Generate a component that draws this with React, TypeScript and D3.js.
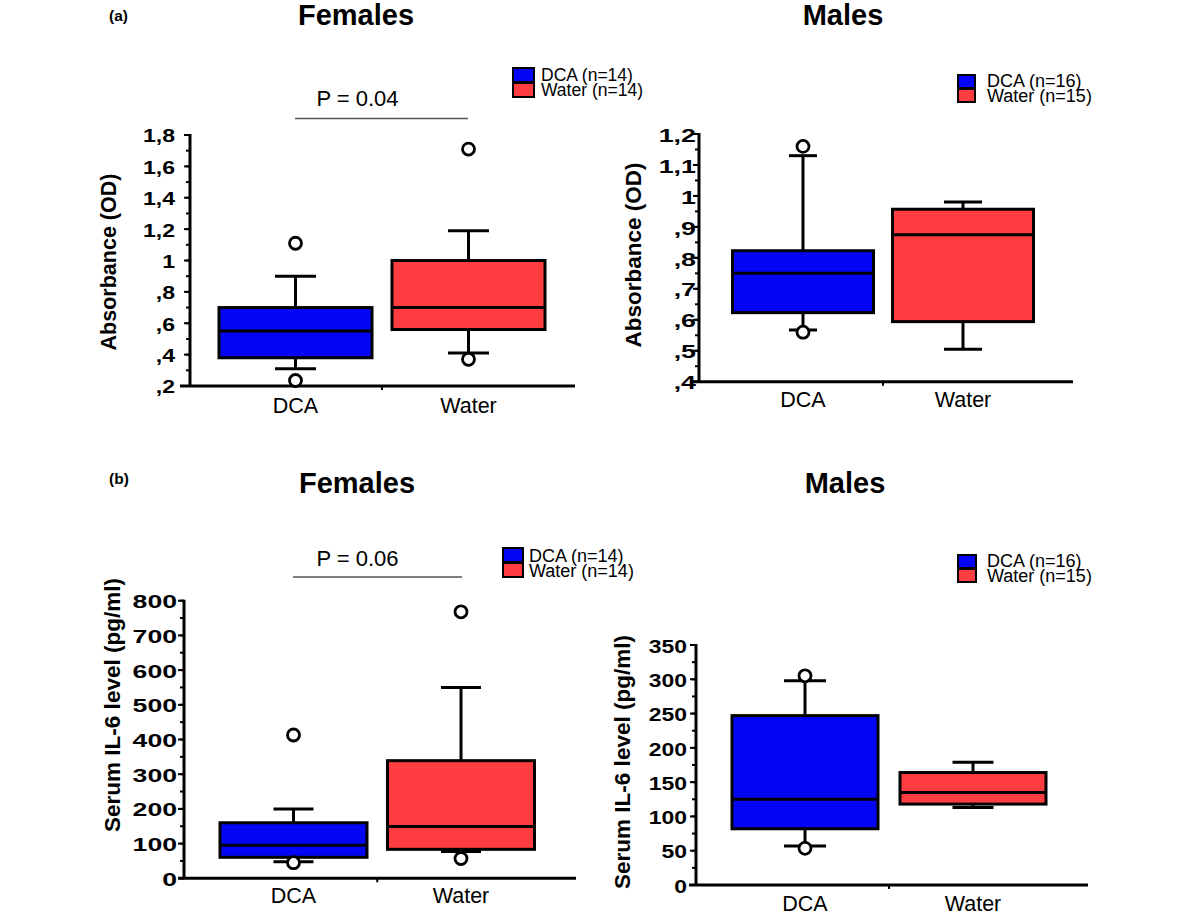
import React from "react";
import * as d3 from "d3";

// ---------- DATA ----------
const groups = ["DCA", "Water"];

// box stats per group: [lower whisker, Q1, median, Q3, upper whisker]
const odFemaleBox = [
  [0.31, 0.38, 0.55, 0.7, 0.9],
  [0.41, 0.56, 0.7, 1.0, 1.19],
];
const odFemaleOutliers = [[1.11, 0.235], [1.71, 0.37]];

const odMaleBox = [
  [0.567, 0.623, 0.75, 0.823, 1.13],
  [0.505, 0.594, 0.875, 0.957, 0.98],
];
const odMaleOutliers = [[1.16, 0.56], []];

const il6FemaleBox = [
  [48, 60.5, 95, 160, 200],
  [77, 83.5, 149, 339, 550],
];
const il6FemaleOutliers = [[413, 45], [768, 57]];

const il6MaleBox = [
  [57, 82, 125, 247, 298],
  [113, 118, 135, 164, 179],
];
const il6MaleOutliers = [[305, 53.5], []];

const odFemaleTicks = [0.2, 0.4, 0.6, 0.8, 1.0, 1.2, 1.4, 1.6, 1.8];
const odMaleTicks = [0.4, 0.5, 0.6, 0.7, 0.8, 0.9, 1.0, 1.1, 1.2];
const il6FemaleTicks = [0, 100, 200, 300, 400, 500, 600, 700, 800];
const il6MaleTicks = [0, 50, 100, 150, 200, 250, 300, 350];

const femaleLegend = ["DCA (n=14)", "Water (n=14)"];
const maleLegend = ["DCA (n=16)", "Water (n=15)"];

const odTitle = "Absorbance (OD)";
const il6Title = "Serum IL-6 level (pg/ml)";
const pFemaleOD = "P = 0.04";
const pFemaleIL6 = "P = 0.06";

// ---------- STYLE ----------
const COLORS = ["#0505f5", "#ff3d41"];
const FONT = "'Liberation Sans', Arial, Helvetica, sans-serif";

const commaFmt = (v: number) => {
  const s = d3.format("~g")(+v.toFixed(4));
  if (s.startsWith("0.")) return "," + s.slice(2);
  return s.replace(".", ",");
};
const intFmt = (v: number) => d3.format("d")(v);

type PanelCfg = {
  axisX: number;
  axisRight: number;
  axisLeftOver: number;
  yBottom: number;
  yTop: number;
  domain: [number, number];
  ticks: number[];
  minor: number;
  fmt: (v: number) => string;
  band: [number, number];
  boxW: number;
  capW: number[];
  tickFont: number;
  tickSX: number;
  labelGap: number;
  title: string;
  titleFont: number;
  titleX: number;
  titleY: number;
  catBaseline: number;
  catFont: number;
  box: number[][];
  outliers: number[][];
};

function BoxPanel({ c }: { c: PanelCfg }) {
  const y = d3.scaleLinear().domain(c.domain).range([c.yBottom, c.yTop]);
  const x = d3.scaleBand<string>().domain(groups).range(c.band).padding(0);
  const minorTicks = d3.range(c.domain[0], c.domain[1] + c.minor / 2, c.minor);
  const mid = (c.band[0] + c.band[1]) / 2;
  return (
    <g>
      {minorTicks.map((t, i) => (
        <line key={"m" + i} x1={c.axisX - 4} x2={c.axisX} y1={y(t)} y2={y(t)} stroke="#000" strokeWidth={2} />
      ))}
      {c.ticks.map((t, i) => (
        <line key={"t" + i} x1={c.axisX - 6} x2={c.axisX} y1={y(t)} y2={y(t)} stroke="#000" strokeWidth={2} />
      ))}
      {c.ticks.map((t, i) => (
        <text
          key={"l" + i}
          transform={`translate(${c.axisX - c.labelGap},${y(t) + c.tickFont * 0.36 + 1}) scale(${c.tickSX},1)`}
          textAnchor="end"
          fontFamily={FONT}
          fontWeight="bold"
          fontSize={c.tickFont}
          fill="#000"
        >
          {c.fmt(t)}
        </text>
      ))}
      <line x1={c.axisX} x2={c.axisX} y1={y(c.domain[1]) - 1} y2={c.yBottom} stroke="#000" strokeWidth={3} />
      <line x1={c.axisX - c.axisLeftOver} x2={c.axisRight} y1={c.yBottom} y2={c.yBottom} stroke="#000" strokeWidth={3} />
      <line x1={mid} x2={mid} y1={c.yBottom} y2={c.yBottom + 4} stroke="#000" strokeWidth={2} />
      <text
        transform={`translate(${c.titleX},${c.titleY}) rotate(-90)`}
        textAnchor="middle"
        dy="0.35em"
        fontFamily={FONT}
        fontWeight="bold"
        fontSize={c.titleFont}
        fill="#000"
      >
        {c.title}
      </text>
      {groups.map((g, i) => {
        const cx = (x(g) as number) + x.bandwidth() / 2;
        const [lo, q1, med, q3, hi] = c.box[i];
        const hw = c.boxW / 2;
        const cw = c.capW[i] / 2;
        return (
          <g key={g}>
            <line x1={cx} x2={cx} y1={y(hi)} y2={y(q3)} stroke="#000" strokeWidth={3} />
            <line x1={cx} x2={cx} y1={y(q1)} y2={y(lo)} stroke="#000" strokeWidth={3} />
            <line x1={cx - cw} x2={cx + cw} y1={y(hi)} y2={y(hi)} stroke="#000" strokeWidth={3} />
            <line x1={cx - cw} x2={cx + cw} y1={y(lo)} y2={y(lo)} stroke="#000" strokeWidth={3} />
            <rect x={cx - hw} y={y(q3)} width={c.boxW} height={y(q1) - y(q3)} fill={COLORS[i]} stroke="#000" strokeWidth={3} />
            <line x1={cx - hw} x2={cx + hw} y1={y(med)} y2={y(med)} stroke="#000" strokeWidth={3} />
            {c.outliers[i].map((o, j) => (
              <circle key={j} cx={cx} cy={y(o)} r={6} fill="#fff" stroke="#000" strokeWidth={2.8} />
            ))}
            <text x={cx} y={c.catBaseline} textAnchor="middle" fontFamily={FONT} fontSize={c.catFont} fill="#000">
              {g}
            </text>
          </g>
        );
      })}
    </g>
  );
}

function Legend({ x, y0, y1, w, h, tx, b0, b1, fs, labels }: any) {
  return (
    <g>
      {[y0, y1].map((yy: number, i: number) => (
        <rect key={"r" + i} x={x} y={yy} width={w} height={h} fill={COLORS[i]} stroke="#000" strokeWidth={2} />
      ))}
      {[b0, b1].map((bb: number, i: number) => (
        <text key={"t" + i} x={tx} y={bb} fontFamily={FONT} fontSize={fs} fill="#000">
          {labels[i]}
        </text>
      ))}
    </g>
  );
}

const panels: PanelCfg[] = [
  {
    axisX: 190, axisRight: 575, axisLeftOver: 10, yBottom: 386, yTop: 135,
    domain: [0.2, 1.8], ticks: odFemaleTicks, minor: 0.1, fmt: commaFmt,
    band: [209, 555], boxW: 153, capW: [41, 41],
    tickFont: 18, tickSX: 1.28, labelGap: 15,
    title: odTitle, titleFont: 21.5, titleX: 108, titleY: 262,
    catBaseline: 413, catFont: 21.5,
    box: odFemaleBox, outliers: odFemaleOutliers,
  },
  {
    axisX: 699, axisRight: 1073, axisLeftOver: 6, yBottom: 381.7, yTop: 134,
    domain: [0.4, 1.2], ticks: odMaleTicks, minor: 0.05, fmt: commaFmt,
    band: [723, 1043], boxW: 141, capW: [28, 38],
    tickFont: 18.5, tickSX: 1.45, labelGap: 3,
    title: odTitle, titleFont: 22.5, titleX: 633, titleY: 255,
    catBaseline: 407, catFont: 21.5,
    box: odMaleBox, outliers: odMaleOutliers,
  },
  {
    axisX: 184, axisRight: 576, axisLeftOver: 6, yBottom: 878.3, yTop: 600.7,
    domain: [0, 800], ticks: il6FemaleTicks, minor: 50, fmt: intFmt,
    band: [209.75, 544.75], boxW: 147, capW: [40, 40],
    tickFont: 18, tickSX: 1.48, labelGap: 7,
    title: il6Title, titleFont: 22.5, titleX: 112, titleY: 705,
    catBaseline: 903, catFont: 21.5,
    box: il6FemaleBox, outliers: il6FemaleOutliers,
  },
  {
    axisX: 696, axisRight: 1088, axisLeftOver: 7, yBottom: 885, yTop: 645,
    domain: [0, 350], ticks: il6MaleTicks, minor: 25, fmt: intFmt,
    band: [721, 1057], boxW: 146, capW: [42, 41],
    tickFont: 18.5, tickSX: 1.24, labelGap: 9,
    title: il6Title, titleFont: 22.5, titleX: 622, titleY: 762,
    catBaseline: 911, catFont: 21.5,
    box: il6MaleBox, outliers: il6MaleOutliers,
  },
];

export default function App() {
  return (
    <svg
      width={1200}
      height={917}
      style={{ position: "absolute", left: 0, top: 0, background: "#fff" }}
    >
      <rect x={0} y={0} width={1200} height={917} fill="#fff" />
      <text x={109} y={21} fontFamily={FONT} fontWeight="bold" fontSize={15.5}>(a)</text>
      <text x={109} y={484} fontFamily={FONT} fontWeight="bold" fontSize={15.5}>(b)</text>
      <text x={356} y={25} textAnchor="middle" fontFamily={FONT} fontWeight="bold" fontSize={29}>Females</text>
      <text x={843} y={25} textAnchor="middle" fontFamily={FONT} fontWeight="bold" fontSize={29}>Males</text>
      <text x={357} y={493} textAnchor="middle" fontFamily={FONT} fontWeight="bold" fontSize={29}>Females</text>
      <text x={845} y={493} textAnchor="middle" fontFamily={FONT} fontWeight="bold" fontSize={29}>Males</text>

      <text x={357.5} y={106} textAnchor="middle" fontFamily={FONT} fontSize={22}>{pFemaleOD}</text>
      <line x1={295} x2={468} y1={118.5} y2={118.5} stroke="#555" strokeWidth={1.5} />
      <text x={357.5} y={566} textAnchor="middle" fontFamily={FONT} fontSize={22}>{pFemaleIL6}</text>
      <line x1={293} x2={462} y1={577} y2={577} stroke="#555" strokeWidth={1.5} />

      <Legend x={513} y0={68} y1={83} w={21} h={14} tx={541} b0={80.5} b1={95.5} fs={17.5} labels={femaleLegend} />
      <Legend x={958} y0={75} y1={89} w={17} h={13} tx={987} b0={87} b1={102} fs={18} labels={maleLegend} />
      <Legend x={503} y0={548} y1={563} w={20} h={14} tx={529} b0={562} b1={576.5} fs={18} labels={femaleLegend} />
      <Legend x={958} y0={555} y1={569} w={18} h={13} tx={987} b0={567} b1={582} fs={18} labels={maleLegend} />

      {panels.map((p, i) => (
        <BoxPanel key={i} c={p} />
      ))}
    </svg>
  );
}
